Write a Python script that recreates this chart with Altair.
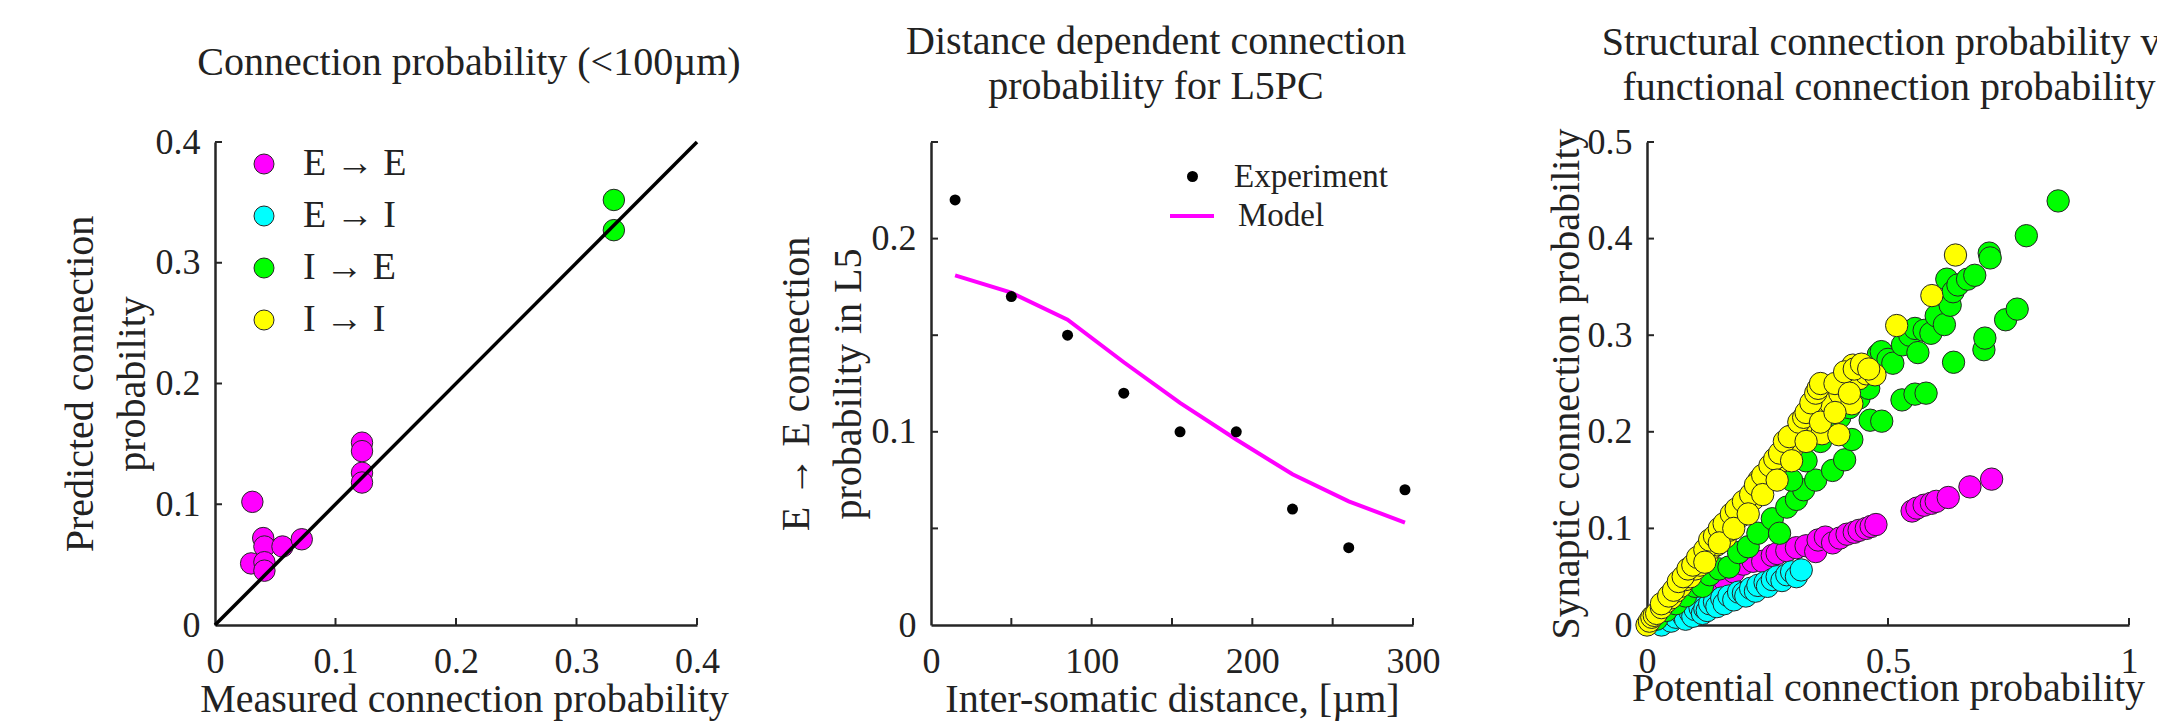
import altair as alt
import pandas as pd

FONT = "Liberation Serif"
TXT = "#222222"
AX = "#262626"
W, H = 482, 483

# ---------------- Panel 1 data ----------------
conn_labels = ["E → E", "E → I", "I → E", "I → I"]
conn_colors = ["#ff00ff", "#00ffff", "#00ff00", "#ffff00"]

p1_ee_measured = [0.031, 0.030, 0.040, 0.041, 0.041, 0.041, 0.056, 0.072, 0.122, 0.122, 0.122, 0.122]
p1_ee_predicted = [0.102, 0.051, 0.072, 0.065, 0.052, 0.045, 0.065, 0.071, 0.151, 0.144, 0.126, 0.118]
p1_ie_measured = [0.331, 0.331]
p1_ie_predicted = [0.352, 0.327]
p1_diag = [0.0, 0.4]
p1_labels = [0, 0.1, 0.2, 0.3, 0.4]
p1_ticks = [0.1, 0.2, 0.3, 0.4]

# ---------------- Panel 2 data ----------------
p2_dist = [15, 50, 85, 120, 155, 190, 225, 260, 295]
p2_experiment = [0.22, 0.17, 0.15, 0.12, 0.10, 0.10, 0.06, 0.04, 0.07]
p2_model = [0.181, 0.172, 0.158, 0.136, 0.115, 0.096, 0.078, 0.064, 0.053]
p2_xlabels = [0, 100, 200, 300]
p2_xticks = [50, 100, 150, 200, 250, 300]
p2_ylabels = [0, 0.1, 0.2]
p2_yticks = [0.05, 0.1, 0.15, 0.2, 0.25]

# ---------------- Panel 3 data ----------------
p3_ee_x = [0.04, 0.07, 0.10, 0.13, 0.16, 0.18, 0.20, 0.22, 0.24, 0.26, 0.27, 0.29, 0.31, 0.33,
           0.35, 0.355, 0.37, 0.385, 0.40, 0.415, 0.43, 0.44, 0.455, 0.465, 0.475,
           0.55, 0.56, 0.575, 0.59, 0.60, 0.625, 0.67, 0.715]
p3_ee_y = [0.008, 0.015, 0.025, 0.035, 0.047, 0.055, 0.063, 0.066, 0.066, 0.072, 0.074, 0.077, 0.080, 0.082,
           0.076, 0.088, 0.091, 0.085, 0.090, 0.094, 0.096, 0.098, 0.100, 0.102, 0.104,
           0.118, 0.121, 0.124, 0.126, 0.128, 0.132, 0.143, 0.151]
p3_ei_x = [0.03, 0.05, 0.06, 0.075, 0.08, 0.09, 0.095, 0.10, 0.11, 0.115, 0.12, 0.125, 0.13, 0.14,
           0.145, 0.155, 0.16, 0.17, 0.18, 0.19, 0.20, 0.205, 0.215, 0.225, 0.23, 0.245, 0.25,
           0.26, 0.27, 0.28, 0.29, 0.30, 0.31, 0.32]
p3_ei_y = [0.0, 0.004, 0.008, 0.010, 0.006, 0.013, 0.009, 0.016, 0.018, 0.012, 0.017, 0.015, 0.022, 0.024,
           0.019, 0.028, 0.022, 0.030, 0.026, 0.034, 0.033, 0.030, 0.038, 0.035, 0.041, 0.044, 0.040,
           0.047, 0.050, 0.046, 0.052, 0.055, 0.050, 0.057]
p3_ie_x = [0.02, 0.04, 0.06, 0.08, 0.10, 0.115, 0.13, 0.15, 0.17, 0.19, 0.21, 0.23, 0.26, 0.275,
           0.29, 0.31, 0.325, 0.35, 0.385, 0.41, 0.425,
           0.30, 0.33, 0.36, 0.38, 0.43, 0.48,
           0.40, 0.42, 0.44, 0.45, 0.46, 0.47, 0.486, 0.50, 0.51, 0.53, 0.545, 0.556, 0.562, 0.575,
           0.589, 0.60, 0.617, 0.622, 0.629, 0.635, 0.645, 0.665, 0.68, 0.71, 0.712,
           0.463, 0.487, 0.529, 0.556, 0.579, 0.636, 0.699, 0.701, 0.744, 0.768, 0.787, 0.853]
p3_ie_y = [0.006, 0.015, 0.022, 0.030, 0.040, 0.040, 0.052, 0.058, 0.060, 0.075, 0.081, 0.095, 0.110, 0.095,
           0.122, 0.130, 0.140, 0.150, 0.160, 0.171, 0.192,
           0.150, 0.170, 0.190, 0.205, 0.250, 0.280,
           0.215, 0.225, 0.235, 0.250, 0.245, 0.262, 0.283, 0.275, 0.271, 0.290, 0.300, 0.307, 0.282, 0.305,
           0.302, 0.320, 0.311, 0.358, 0.331, 0.345, 0.352, 0.358, 0.362, 0.385, 0.380,
           0.212, 0.211, 0.233, 0.239, 0.240, 0.272, 0.285, 0.297, 0.316, 0.327, 0.403, 0.439]
p3_ii_x = [0.0, 0.005, 0.01, 0.015, 0.02, 0.03, 0.04, 0.05, 0.06, 0.07, 0.08, 0.09, 0.10, 0.11,
           0.115, 0.125, 0.135, 0.145, 0.155, 0.163, 0.17, 0.18, 0.187, 0.195, 0.204, 0.21, 0.22,
           0.232, 0.235, 0.25, 0.26, 0.27, 0.28, 0.29, 0.30, 0.304, 0.31, 0.32, 0.335, 0.345, 0.363,
           0.373, 0.37, 0.38, 0.398, 0.40, 0.418, 0.425, 0.427, 0.44, 0.455, 0.473,
           0.03, 0.045, 0.055, 0.065, 0.075, 0.085, 0.095, 0.105, 0.12, 0.13, 0.14, 0.15, 0.16, 0.175,
           0.185, 0.20, 0.215, 0.225, 0.24, 0.255, 0.265, 0.275, 0.285, 0.295, 0.315, 0.325, 0.33,
           0.34, 0.35, 0.355, 0.36, 0.39, 0.41, 0.43, 0.445, 0.46,
           0.12, 0.15, 0.18, 0.21, 0.24, 0.27, 0.30, 0.33, 0.36, 0.39, 0.42,
           0.518, 0.591, 0.640]
p3_ii_y = [0.0, 0.004, 0.008, 0.010, 0.012, 0.018, 0.024, 0.028, 0.035, 0.040, 0.047, 0.050, 0.058, 0.062,
           0.069, 0.072, 0.080, 0.083, 0.090, 0.091, 0.098, 0.105, 0.112, 0.113, 0.120, 0.125, 0.130,
           0.150, 0.140, 0.150, 0.160, 0.165, 0.170, 0.174, 0.182, 0.197, 0.190, 0.200, 0.210, 0.205, 0.198,
           0.243, 0.225, 0.230, 0.197, 0.240, 0.259, 0.229, 0.269, 0.255, 0.260, 0.259,
           0.022, 0.030, 0.036, 0.045, 0.050, 0.058, 0.062, 0.070, 0.078, 0.088, 0.092, 0.100, 0.105, 0.115,
           0.120, 0.128, 0.135, 0.145, 0.155, 0.165, 0.172, 0.178, 0.190, 0.195, 0.210, 0.215, 0.220,
           0.230, 0.240, 0.245, 0.250, 0.250, 0.262, 0.265, 0.270, 0.265,
           0.065, 0.085, 0.100, 0.115, 0.135, 0.150, 0.170, 0.190, 0.210, 0.220, 0.240,
           0.310, 0.341, 0.383]
p3_xlabels = [0, 0.5, 1]
p3_xticks = [0.5, 1.0]
p3_ylabels = [0, 0.1, 0.2, 0.3, 0.4, 0.5]
p3_yticks = [0.1, 0.2, 0.3, 0.4, 0.5]


def make_axis(values, title, label_pad, title_pad, fmt="~g", **kw):
    return alt.Axis(values=values, format=fmt, ticks=False, tickSize=0, grid=False,
                    labelFlush=False, labelOverlap=False, domainColor=AX, domainWidth=2.5,
                    labelFont=FONT, labelFontSize=36, labelColor=TXT, labelPadding=label_pad,
                    title=title, titleFont=FONT, titleFontSize=40, titleFontWeight="normal",
                    titleColor=TXT, titleLineHeight=52, titlePadding=title_pad, **kw)


def tick_layers(xvals, yvals, xfield, yfield, xs, ys, xax, yax):
    xt = alt.Chart(pd.DataFrame({xfield: xvals})).mark_rule(color=AX, strokeWidth=2).encode(
        x=alt.X(f"{xfield}:Q", scale=xs, axis=xax), y=alt.value(H), y2=alt.value(H - 7))
    yt = alt.Chart(pd.DataFrame({yfield: yvals})).mark_rule(color=AX, strokeWidth=2).encode(
        y=alt.Y(f"{yfield}:Q", scale=ys, axis=yax), x=alt.value(0), x2=alt.value(7))
    return [xt, yt]


# ---------------- Panel 1 ----------------
df1 = pd.DataFrame({
    "meas": p1_ee_measured + p1_ie_measured,
    "pred": p1_ee_predicted + p1_ie_predicted,
    "conn": [conn_labels[0]] * len(p1_ee_measured) + [conn_labels[2]] * len(p1_ie_measured),
})
sx1 = alt.Scale(domain=[0, 0.4], nice=False, zero=False)
sy1 = alt.Scale(domain=[0, 0.4], nice=False, zero=False)
xax1 = make_axis(p1_labels, "Measured connection probability", 19, 0, titleX=249)
yax1 = make_axis(p1_labels, ["Predicted connection", "probability"], 15, 3)

pts1 = alt.Chart(df1).mark_circle(size=460, stroke=AX, strokeWidth=1, opacity=1).encode(
    x=alt.X("meas:Q", scale=sx1, axis=xax1),
    y=alt.Y("pred:Q", scale=sy1, axis=yax1),
    fill=alt.Fill("conn:N", scale=alt.Scale(domain=conn_labels, range=conn_colors),
                  legend=alt.Legend(title=None, orient="none", legendX=30, legendY=3,
                                    labelFont=FONT, labelFontSize=38, labelColor=TXT,
                                    symbolType="circle", symbolSize=400, symbolStrokeColor=AX,
                                    symbolStrokeWidth=1, symbolOpacity=1, labelOffset=20,
                                    rowPadding=14, padding=0)),
)
diag = alt.Chart(pd.DataFrame({"meas": p1_diag, "pred": p1_diag})).mark_line(
    color="black", strokeWidth=3.5).encode(
    x=alt.X("meas:Q", scale=sx1, axis=xax1), y=alt.Y("pred:Q", scale=sy1, axis=yax1))
panel1 = alt.layer(pts1, diag, *tick_layers(p1_ticks, p1_ticks, "meas", "pred", sx1, sy1, xax1, yax1)).properties(
    width=W, height=H,
    title=alt.TitleParams("Connection probability (<100µm)", frame="group", offset=41, dx=13,
                          fontSize=40, font=FONT, fontWeight="normal", color=TXT, anchor="middle"))

# ---------------- Panel 2 ----------------
df2 = pd.DataFrame({"dist": p2_dist, "exp": p2_experiment, "model": p2_model,
                    "s1": ["Experiment"] * len(p2_dist), "s2": ["Model"] * len(p2_dist)})
sx2 = alt.Scale(domain=[0, 300], nice=False, zero=False)
sy2 = alt.Scale(domain=[0, 0.25], nice=False, zero=False)
xax2 = make_axis(p2_xlabels, "Inter-somatic distance, [µm]", 19, 0, fmt="d")
yax2 = make_axis(p2_ylabels, ["E → E connection", "probability in L5"], 15, 3)

line2 = alt.Chart(df2).mark_line(strokeWidth=4).encode(
    x=alt.X("dist:Q", scale=sx2, axis=xax2),
    y=alt.Y("model:Q", scale=sy2, axis=yax2),
    stroke=alt.Stroke("s2:N", scale=alt.Scale(domain=["Model"], range=["#ff00ff"]),
                      legend=alt.Legend(title=None, orient="none", legendX=237, legendY=50,
                                        labelFont=FONT, labelFontSize=33, labelColor=TXT,
                                        symbolType="stroke", symbolSize=1936, symbolStrokeWidth=4,
                                        labelOffset=22, padding=0)),
)
pts2 = alt.Chart(df2).mark_circle(size=121, opacity=1).encode(
    x=alt.X("dist:Q", scale=sx2, axis=xax2),
    y=alt.Y("exp:Q", scale=sy2, axis=yax2),
    fill=alt.Fill("s1:N", scale=alt.Scale(domain=["Experiment"], range=["black"]),
                  legend=alt.Legend(title=None, orient="none", legendX=245, legendY=18,
                                    labelFont=FONT, labelFontSize=33, labelColor=TXT,
                                    symbolType="circle", symbolSize=121, symbolOpacity=1,
                                    symbolStrokeWidth=0, labelOffset=25, padding=0)),
)
panel2 = alt.layer(line2, pts2, *tick_layers(p2_xticks, p2_yticks, "dist", "exp", sx2, sy2, xax2, yax2)).properties(
    width=W, height=H,
    title=alt.TitleParams(["Distance dependent connection", "probability  for L5PC"], frame="group",
                          offset=34, dx=-16, lineHeight=45, fontSize=40, font=FONT,
                          fontWeight="normal", color=TXT, anchor="middle"))

# ---------------- Panel 3 ----------------
df3 = pd.DataFrame({
    "pot": p3_ee_x + p3_ei_x + p3_ie_x + p3_ii_x,
    "syn": p3_ee_y + p3_ei_y + p3_ie_y + p3_ii_y,
    "conn": [conn_labels[0]] * len(p3_ee_x) + [conn_labels[1]] * len(p3_ei_x)
            + [conn_labels[2]] * len(p3_ie_x) + [conn_labels[3]] * len(p3_ii_x),
})
df3["order"] = range(len(df3))
sx3 = alt.Scale(domain=[0, 1], nice=False, zero=False)
sy3 = alt.Scale(domain=[0, 0.5], nice=False, zero=False)
xax3 = make_axis(p3_xlabels, "Potential connection probability", 19, -11)
yax3 = make_axis(p3_ylabels, "Synaptic connection probability", 15, 1)

pts3 = alt.Chart(df3).mark_circle(size=500, stroke=AX, strokeWidth=1, opacity=1).encode(
    x=alt.X("pot:Q", scale=sx3, axis=xax3),
    y=alt.Y("syn:Q", scale=sy3, axis=yax3),
    fill=alt.Fill("conn:N", scale=alt.Scale(domain=conn_labels, range=conn_colors), legend=None),
    order=alt.Order("order:Q"),
)
panel3 = alt.layer(pts3, *tick_layers(p3_xticks, p3_yticks, "pot", "syn", sx3, sy3, xax3, yax3)).properties(
    width=W, height=H,
    title=alt.TitleParams(["Structural connection probability vs", "functional connection probability"],
                          frame="group", offset=16, dx=1, lineHeight=45, fontSize=40, font=FONT,
                          fontWeight="normal", color=TXT, anchor="middle"))

chart = alt.hconcat(panel1, panel2, panel3, spacing=234, bounds="flush").resolve_scale(
    fill="independent", stroke="independent"
).properties(
    autosize=alt.AutoSizeParams(type="none"),
    padding={"left": 215, "top": 142, "right": 1942, "bottom": 580}
).configure(font=FONT).configure_view(stroke=None)

chart.save("out.html", embed_options={"renderer": "svg", "actions": False})
